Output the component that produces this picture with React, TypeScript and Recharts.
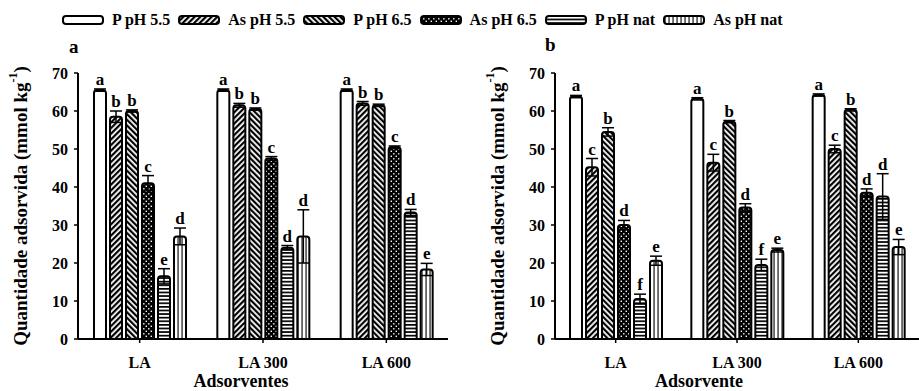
import React from "react";
import { BarChart, Bar, XAxis, YAxis, ErrorBar, LabelList, Label } from "recharts";

const categories = ["LA", "LA 300", "LA 600"];
const seriesNames = ["P pH 5.5", "As pH 5.5", "P pH 6.5", "As pH 6.5", "P pH nat", "As pH nat"];
const seriesKeys = ["p55", "as55", "p65", "as65", "pnat", "asnat"];
const patternIds = ["patP55", "patAs55", "patP65", "patAs65", "patPnat", "patAsnat"];
const yTicks = [0, 10, 20, 30, 40, 50, 60, 70];

// Panel a
const aP55 = [65.5, 65.5, 65.5];
const aAs55 = [58.5, 61.5, 62];
const aP65 = [60, 60.5, 61.5];
const aAs65 = [41, 47.5, 50.5];
const aPnat = [16.5, 24, 33.3];
const aAsnat = [27, 27, 18.3];
const aP55Err = [0.3, 0.3, 0.3];
const aAs55Err = [1.5, 0.5, 0.5];
const aP65Err = [0.3, 0.3, 0.3];
const aAs65Err = [2, 0.5, 0.3];
const aPnatErr = [2, 0.6, 0.8];
const aAsnatErr = [2.2, 7, 1.6];
const aP55Let = ["a", "a", "a"];
const aAs55Let = ["b", "b", "b"];
const aP65Let = ["b", "b", "b"];
const aAs65Let = ["c", "c", "c"];
const aPnatLet = ["e", "d", "d"];
const aAsnatLet = ["d", "d", "e"];

// Panel b
const bP55 = [63.8, 63.2, 64.2];
const bAs55 = [45.2, 46.4, 50];
const bP65 = [54.5, 57.2, 60.3];
const bAs65 = [30, 34.6, 38.5];
const bPnat = [10.5, 19.5, 37.5];
const bAsnat = [20.6, 23.4, 24.2];
const bP55Err = [0.3, 0.3, 0.3];
const bAs55Err = [2.3, 2.2, 1];
const bP65Err = [1.1, 0.3, 0.3];
const bAs65Err = [1.2, 1, 1];
const bPnatErr = [1.3, 1.5, 6];
const bAsnatErr = [1.2, 0.5, 2];
const bP55Let = ["a", "a", "a"];
const bAs55Let = ["c", "c", "c"];
const bP65Let = ["b", "b", "b"];
const bAs65Let = ["d", "d", "d"];
const bPnatLet = ["f", "f", "d"];
const bAsnatLet = ["e", "e", "e"];

const FONT = "Liberation Serif, DejaVu Serif, Noto Serif, Times New Roman, serif";

type Series = { vals: number[]; errs: number[]; lets: string[] };

const panelA: Series[] = [
  { vals: aP55, errs: aP55Err, lets: aP55Let },
  { vals: aAs55, errs: aAs55Err, lets: aAs55Let },
  { vals: aP65, errs: aP65Err, lets: aP65Let },
  { vals: aAs65, errs: aAs65Err, lets: aAs65Let },
  { vals: aPnat, errs: aPnatErr, lets: aPnatLet },
  { vals: aAsnat, errs: aAsnatErr, lets: aAsnatLet },
];
const panelB: Series[] = [
  { vals: bP55, errs: bP55Err, lets: bP55Let },
  { vals: bAs55, errs: bAs55Err, lets: bAs55Let },
  { vals: bP65, errs: bP65Err, lets: bP65Let },
  { vals: bAs65, errs: bAs65Err, lets: bAs65Let },
  { vals: bPnat, errs: bPnatErr, lets: bPnatLet },
  { vals: bAsnat, errs: bAsnatErr, lets: bAsnatLet },
];

function buildRows(panel: Series[]) {
  return categories.map((cat, i) => {
    const row: any = { cat };
    seriesKeys.forEach((k, s) => {
      row[k] = panel[s].vals[i];
      row[k + "Err"] = panel[s].errs[i];
      row[k + "Let"] = panel[s].lets[i];
    });
    return row;
  });
}

const Patterns = () => (
  <svg width={0} height={0} style={{ position: "absolute" }}>
    <defs>
      <pattern id="patP55" width="4" height="4" patternUnits="userSpaceOnUse">
        <rect width="4" height="4" fill="#fff" />
      </pattern>
      <pattern id="patAs55" width="4" height="4" patternUnits="userSpaceOnUse" patternTransform="rotate(45)">
        <rect width="4" height="4" fill="#fff" />
        <rect width="2.2" height="4" fill="#000" />
      </pattern>
      <pattern id="patP65" width="4" height="4" patternUnits="userSpaceOnUse" patternTransform="rotate(-45)">
        <rect width="4" height="4" fill="#fff" />
        <rect width="2.2" height="4" fill="#000" />
      </pattern>
      <pattern id="patAs65" width="5" height="5" patternUnits="userSpaceOnUse">
        <rect width="5" height="5" fill="#000" />
        <rect x="0.6" y="0.6" width="1.4" height="1.4" fill="#fff" />
        <rect x="3.1" y="3.1" width="1.4" height="1.4" fill="#fff" />
      </pattern>
      <pattern id="patPnat" width="4" height="3.6" patternUnits="userSpaceOnUse">
        <rect width="4" height="3.6" fill="#fff" />
        <rect width="4" height="1.7" fill="#000" />
      </pattern>
      <pattern id="patAsnat" width="4" height="4" patternUnits="userSpaceOnUse">
        <rect width="4" height="4" fill="#fff" />
        <rect x="1.5" width="1.1" height="4" fill="#000" />
      </pattern>
    </defs>
  </svg>
);

const makeLetter = (series: Series) => (props: any) => {
  const { x, y, width, height, index } = props;
  const v = series.vals[index];
  const e = series.errs[index];
  const h = Number(height);
  const pxPer = v ? h / v : 0;
  const top = Number(y) - e * pxPer;
  return (
    <text
      x={Number(x) + Number(width) / 2}
      y={top - 4}
      textAnchor="middle"
      fontFamily={FONT}
      fontWeight="bold"
      fontSize={17}
      fill="#000"
    >
      {series.lets[index]}
    </text>
  );
};

const YTitle = (props: any) => {
  const vb = props.viewBox || {};
  const cx = vb.x + vb.width - 58;
  const cy = vb.y + vb.height / 2;
  return (
    <text
      x={cx}
      y={cy}
      transform={`rotate(-90 ${cx} ${cy})`}
      textAnchor="middle"
      dominantBaseline="central"
      fontFamily={FONT}
      fontWeight="bold"
      fontSize={19}
      fill="#000"
    >
      Quantidade adsorvida (mmol kg
      <tspan dy={-7} fontSize={12}>-1</tspan>
      <tspan dy={7}>)</tspan>
    </text>
  );
};

const makeXTitle = (text: string, shift: number) => (props: any) => {
  const vb = props.viewBox || {};
  return (
    <text
      x={vb.x + vb.width / 2 + shift}
      y={vb.y + 42}
      textAnchor="middle"
      dominantBaseline="central"
      fontFamily={FONT}
      fontWeight="bold"
      fontSize={18}
      fill="#000"
    >
      {text}
    </text>
  );
};

const tickStyle = { fontFamily: FONT, fontWeight: "bold", fontSize: 16, fill: "#000" };

function Panel(props: { panel: Series[]; yAxisWidth: number; marginRight: number; width: number; xTitle: string; xShift: number }) {
  const rows = buildRows(props.panel);
  return (
    <BarChart
      width={props.width}
      height={391}
      data={rows}
      margin={{ top: 73, right: props.marginRight, left: 0, bottom: 0 }}
      barSize={12}
      barGap={4}
    >
      <XAxis
        dataKey="cat"
        height={52}
        tick={tickStyle}
        tickSize={4}
        tickMargin={14}
        axisLine={{ stroke: "#000", strokeWidth: 2 }}
        tickLine={{ stroke: "#000", strokeWidth: 1.5 }}
      >
        <Label content={makeXTitle(props.xTitle, props.xShift)} />
      </XAxis>
      <YAxis
        domain={[0, 70]}
        ticks={yTicks}
        interval={0}
        width={props.yAxisWidth}
        tick={tickStyle}
        tickSize={4}
        tickMargin={6}
        axisLine={{ stroke: "#000", strokeWidth: 2 }}
        tickLine={{ stroke: "#000", strokeWidth: 1.5 }}
      >
        <Label content={YTitle} />
      </YAxis>
      {seriesKeys.map((k, s) => (
        <Bar
          key={k}
          dataKey={k}
          name={seriesNames[s]}
          fill={`url(#${patternIds[s]})`}
          stroke="#000"
          strokeWidth={2}
          radius={[3, 3, 0, 0]}
          isAnimationActive={false}
        >
          <ErrorBar dataKey={k + "Err"} width={6} stroke="#000" strokeWidth={1.5} direction="y" />
          <LabelList dataKey={k + "Let"} content={makeLetter(props.panel[s])} />
        </Bar>
      ))}
    </BarChart>
  );
}

const Legend = () => (
  <div
    style={{
      position: "absolute",
      left: 62,
      top: 10,
      display: "flex",
      alignItems: "center",
      fontFamily: FONT,
      fontWeight: "bold",
      fontSize: 16,
      lineHeight: "20px",
      whiteSpace: "nowrap",
    }}
  >
    {seriesNames.map((n, i) => (
      <div key={n} style={{ display: "flex", alignItems: "center", marginRight: 8 }}>
        <svg width={42} height={10} style={{ marginRight: 8 }}>
          <rect x={1} y={1} width={40} height={8} rx={3} fill={`url(#${patternIds[i]})`} stroke="#000" strokeWidth={2} />
        </svg>
        <span>{n}</span>
      </div>
    ))}
  </div>
);

export default function App() {
  return (
    <div style={{ position: "absolute", left: 0, top: 0, width: 919, height: 391, background: "#fff", overflow: "hidden" }}>
      <Patterns />
      <Legend />
      <div style={{ position: "absolute", left: 69, top: 36, fontFamily: FONT, fontWeight: "bold", fontSize: 19 }}>a</div>
      <div style={{ position: "absolute", left: 545, top: 34, fontFamily: FONT, fontWeight: "bold", fontSize: 19 }}>b</div>
      <div style={{ position: "absolute", left: 0, top: 0 }}>
        <Panel panel={panelA} width={460} yAxisWidth={78} marginRight={12} xTitle="Adsorventes" xShift={-22} />
      </div>
      <div style={{ position: "absolute", left: 460, top: 0 }}>
        <Panel panel={panelB} width={459} yAxisWidth={95} marginRight={0} xTitle="Adsorvente" xShift={-38} />
      </div>
    </div>
  );
}
